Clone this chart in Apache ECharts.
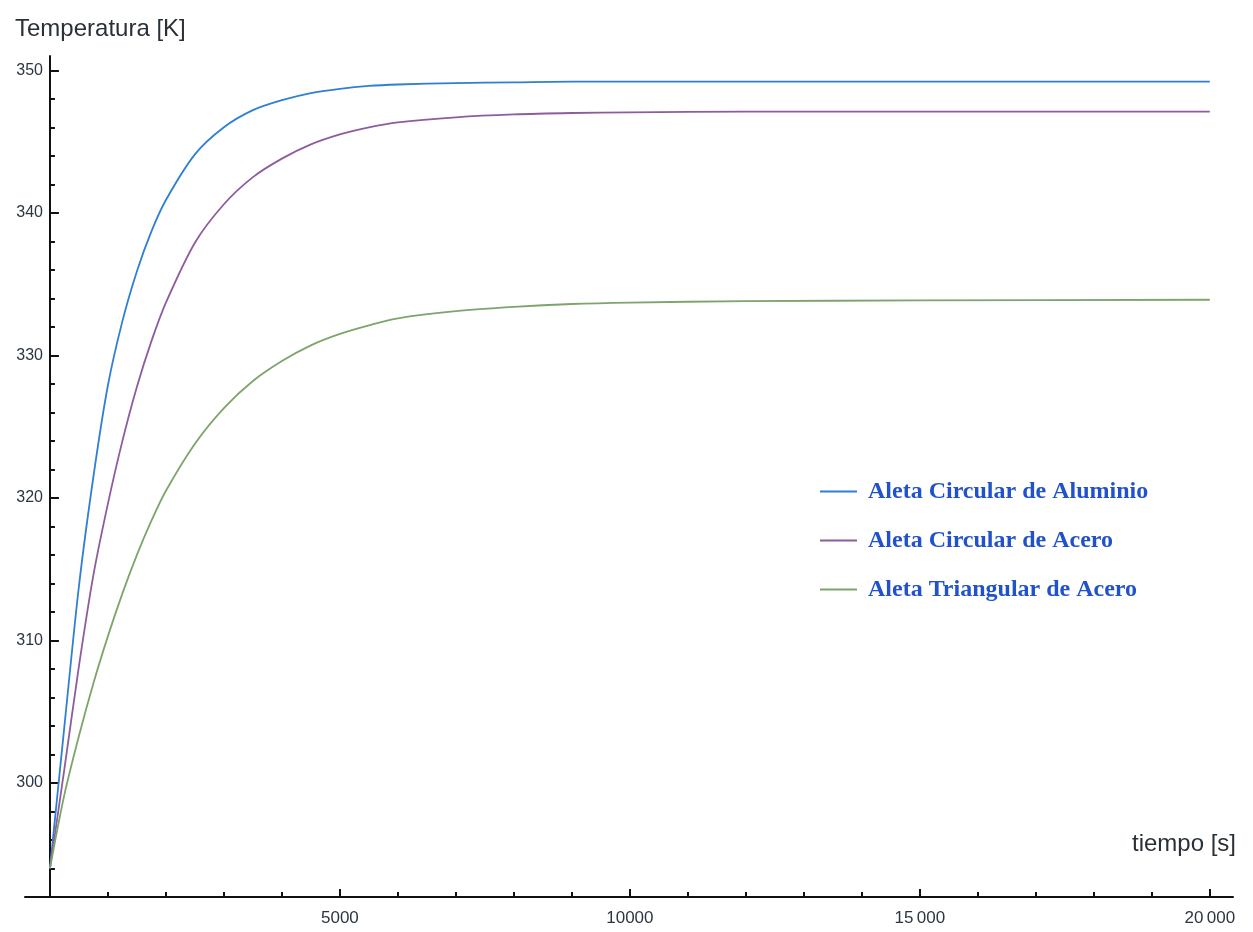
<!DOCTYPE html>
<html>
<head>
<meta charset="utf-8">
<script src="https://cdn.jsdelivr.net/npm/echarts@6/dist/echarts.min.js"></script>
<style>html,body{margin:0;padding:0;background:#fff}#c{width:1253px;height:932px}</style>
</head>
<body>
<div id="c"></div>
<script>
const times = [0, 250, 500, 750, 1000, 1250, 1500, 1750, 2000, 2500, 3000, 3500, 4000, 4500, 5000, 5500, 6000, 7000, 8000, 9000, 10000, 12000, 15000, 20000];
const aluminioCircular = [294, 304.0, 313.8, 321.5, 327.9, 332.4, 335.9, 338.7, 340.9, 344.1, 346.0, 347.2, 347.9, 348.4, 348.7, 348.9, 349.0, 349.1, 349.15, 349.2, 349.2, 349.2, 349.2, 349.2];
const aceroCircular = [294, 301.0, 308.2, 314.6, 319.6, 324.0, 327.8, 331.0, 333.7, 337.9, 340.6, 342.5, 343.8, 344.8, 345.5, 346.0, 346.35, 346.7, 346.9, 347.0, 347.05, 347.1, 347.1, 347.1];
const aceroTriangular = [294, 299.2, 303.3, 307.0, 310.3, 313.3, 316.0, 318.4, 320.5, 323.8, 326.3, 328.2, 329.6, 330.7, 331.5, 332.1, 332.6, 333.1, 333.4, 333.6, 333.7, 333.8, 333.85, 333.9];
const seriesNames = ['Aleta Circular de Aluminio', 'Aleta Circular de Acero', 'Aleta Triangular de Acero'];
const xMajorTicks = [5000, 10000, 15000, 20000];
const xMinorTicks = [1000, 2000, 3000, 4000, 6000, 7000, 8000, 9000, 11000, 12000, 13000, 14000, 16000, 17000, 18000, 19000];
const yMajorTicks = [300, 310, 320, 330, 340, 350];
const yMinorTicks = [294, 296, 298, 302, 304, 306, 308, 312, 314, 316, 318, 322, 324, 326, 328, 332, 334, 336, 338, 342, 344, 346, 348];
const xTitle = 'tiempo [s]';
const yTitle = 'Temperatura [K]';

const colors = ['#2f7fd3', '#8e5c9e', '#7ea46c'];
const pairs = arr => times.map((t, i) => [t, arr[i]]);
const allSeries = [aluminioCircular, aceroCircular, aceroTriangular];

const fmtX = v => v > 10000 ? String(v).replace(/(\d+)(\d{3})$/, '$1\u2009$2') : String(v);
const labelColor = '#2c3642';
const fontSans = '"Liberation Sans", Arial, sans-serif';

const chart = echarts.init(document.getElementById('c'), null, {renderer: 'canvas'});
chart.setOption({
  backgroundColor: '#ffffff',
  animation: false,
  title: [
    {text: yTitle, left: 10, top: 12, textStyle: {fontFamily: fontSans, fontSize: 24, fontWeight: 'normal', color: '#2a3038'}},
    {text: xTitle, right: 12, top: 827, textStyle: {fontFamily: fontSans, fontSize: 24, fontWeight: 'normal', color: '#2a3038'}}
  ],
  grid: {left: 25, right: 20, top: 56, bottom: 35, containLabel: false, outerBoundsMode: 'none'},
  legend: {
    orient: 'vertical', left: 815, top: 474,
    itemWidth: 37, itemHeight: 2, itemGap: 24,
    icon: 'rect',
    data: seriesNames,
    textStyle: {fontFamily: '"Liberation Serif", "Times New Roman", serif', fontWeight: 'bold', fontSize: 24, color: '#2152cc', padding: [0, 0, 0, 6], lineHeight: 25}
  },
  xAxis: [
    {
      type: 'value', min: -430, max: 20400, position: 'bottom',
      axisLine: {show: true, onZero: true, lineStyle: {color: '#111', width: 2}},
      axisTick: {show: true, inside: true, length: 5, customValues: xMinorTicks, lineStyle: {color: '#111', width: 2}},
      axisLabel: {show: true, customValues: xMajorTicks, formatter: fmtX, margin: 13, fontFamily: fontSans, fontSize: 17, color: labelColor},
      splitLine: {show: false}
    },
    {
      type: 'value', min: -430, max: 20400, position: 'bottom',
      axisLine: {show: false, onZero: true},
      axisTick: {show: true, inside: true, length: 8, customValues: xMajorTicks, lineStyle: {color: '#111', width: 2}},
      axisLabel: {show: false},
      splitLine: {show: false}
    }
  ],
  yAxis: [
    {
      type: 'value', min: 292, max: 351, position: 'left',
      axisLine: {show: true, onZero: true, lineStyle: {color: '#111', width: 2}},
      axisTick: {show: true, inside: true, length: 5, customValues: yMinorTicks, lineStyle: {color: '#111', width: 2}},
      axisLabel: {show: true, customValues: yMajorTicks, margin: -18, fontFamily: fontSans, fontSize: 16, color: labelColor},
      splitLine: {show: false}
    },
    {
      type: 'value', min: 292, max: 351, position: 'left',
      axisLine: {show: false, onZero: true},
      axisTick: {show: true, inside: true, length: 9, customValues: yMajorTicks, lineStyle: {color: '#111', width: 2}},
      axisLabel: {show: false},
      splitLine: {show: false}
    }
  ],
  series: allSeries.map((arr, i) => ({
    name: seriesNames[i],
    type: 'line',
    xAxisIndex: 0, yAxisIndex: 0,
    data: pairs(arr),
    smooth: 0.3,
    showSymbol: false,
    symbol: 'none',
    color: colors[i],
    lineStyle: {color: colors[i], width: 1.8}
  }))
});
</script>
</body>
</html>
